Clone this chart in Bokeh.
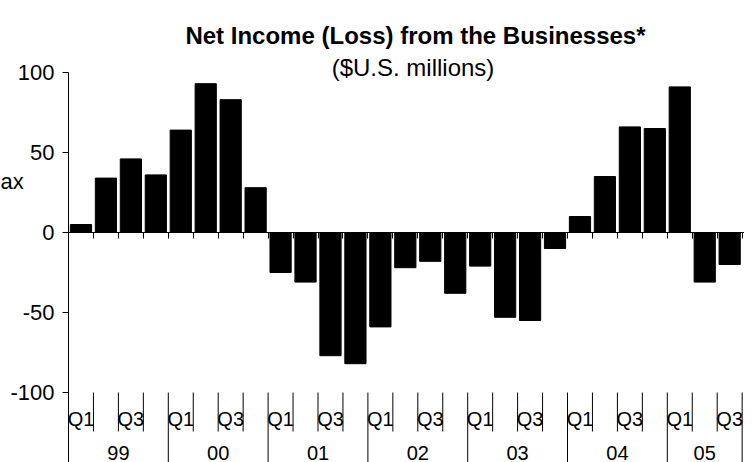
from bokeh.plotting import figure
from bokeh.models import Range1d, FixedTicker, Label
from bokeh.core.properties import value
from bokeh.embed import file_html
from bokeh.resources import INLINE

# ---- data ----
years = ["99", "00", "01", "02", "03", "04", "05"]
period_year = ["99"] * 4 + ["00"] * 4 + ["01"] * 4 + ["02"] * 4 + ["03"] * 4 + ["04"] * 4 + ["05"] * 3
period_quarter = ["Q1", "Q2", "Q3", "Q4"] * 6 + ["Q1", "Q2", "Q3"]
net_income = [5, 34, 46, 36,
              64, 93, 83, 28,
              -25, -31, -77, -82,
              -59, -22, -18, -38,
              -21, -53, -55, -10,
              10, 35, 66, 65,
              91, -31, -20]
shown_quarters = ["Q1", "Q3"]
y_ticks = [-100, -50, 0, 50, 100]
y_tick_labels = ["-100", "-50", "0", "50", "100"]
title_text = "Net Income (Loss) from the Businesses*"
subtitle_text = "($U.S. millions)"
side_text = "ax"

FONT = "Liberation Sans"
n = len(net_income)
xs = list(range(n))

W, H = 744, 462
LEFT_PX, SLOT_PX = 68, 24.95         # pixel position of first category edge, pixels per category
TOP_PX, PX_PER_UNIT = 72, 1.6        # pixel position of value 100, pixels per unit
y_max = max(y_ticks)
x0 = -0.5 - LEFT_PX / SLOT_PX
x1 = x0 + W / SLOT_PX
ytop = y_max + TOP_PX / PX_PER_UNIT
ybot = ytop - H / PX_PER_UNIT


def dx(px):
    return x0 + px / SLOT_PX


def dy(py):
    return ytop - py / PX_PER_UNIT


p = figure(width=W, height=H, output_backend="svg", toolbar_location=None,
           title=None, x_range=Range1d(x0, x1), y_range=Range1d(ybot, ytop),
           min_border_left=0, min_border_right=0, min_border_top=0, min_border_bottom=0)
p.outline_line_color = None
p.xgrid.visible = False
p.ygrid.visible = False
p.background_fill_color = "white"
p.border_fill_color = "white"

# bars
p.vbar(x=xs, top=net_income, bottom=0, width=0.85, fill_color="black", line_color="black")

# y axis (fixed at the first category edge)
ya = p.yaxis[0]
ya.fixed_location = -0.5
ya.bounds = (ybot - 10, y_max)
ya.ticker = FixedTicker(ticks=y_ticks)
ya.major_label_overrides = {t: s for t, s in zip(y_ticks, y_tick_labels)}
ya.major_tick_out = 6
ya.major_tick_in = 0
ya.minor_tick_line_color = None
ya.axis_line_color = "black"
ya.major_tick_line_color = "black"
ya.major_label_text_font = FONT
ya.major_label_text_font_size = "22px"
ya.major_label_text_color = "black"
ya.major_label_standoff = 8

# category axis at zero
xa = p.xaxis[0]
xa.fixed_location = 0
xa.bounds = (-0.5, n + 0.5)
xa.ticker = FixedTicker(ticks=[i + 0.5 for i in range(n)])
xa.major_tick_out = 6
xa.major_tick_in = 0
xa.minor_tick_line_color = None
xa.major_label_text_font_size = "0px"
xa.major_label_text_color = None
xa.axis_line_color = "black"

# category separators below the value scale
q_x0, y_x0 = [], []
for i in range(1, n + 1):
    b = i - 0.5
    if i == n or period_year[i] != period_year[i - 1]:
        y_x0.append(b)
    else:
        q_x0.append(b)
y_min = min(y_ticks)
p.segment(x0=q_x0, x1=q_x0, y0=[y_min] * len(q_x0), y1=[dy(431)] * len(q_x0), line_color="black", line_width=1)
p.segment(x0=y_x0, x1=y_x0, y0=[y_min] * len(y_x0), y1=[ybot - 10] * len(y_x0), line_color="black", line_width=1)

# quarter labels
qx = [x for x, q in zip(xs, period_quarter) if q in shown_quarters]
qt = [q for q in period_quarter if q in shown_quarters]
p.text(x=qx, y=[dy(418)] * len(qx), text=qt, text_align="center", text_baseline="middle",
       text_font=value(FONT), text_font_size="20px", text_color="black")

# year labels
yx = []
for yr in years:
    idx = [i for i, v in enumerate(period_year) if v == yr]
    yx.append(sum(idx) / len(idx))
p.text(x=yx, y=[dy(452)] * len(yx), text=years, text_align="center", text_baseline="middle",
       text_font=value(FONT), text_font_size="20px", text_color="black")

# titles
p.add_layout(Label(x=dx(415), y=dy(35), text=title_text, text_align="center", text_baseline="alphabetic",
                   text_font=FONT, text_font_size="24px", text_font_style="bold", text_color="black"))
p.add_layout(Label(x=dx(412.5), y=dy(66.7), text=subtitle_text, text_align="center", text_baseline="alphabetic",
                   text_font=FONT, text_font_size="24px", text_color="black"))
p.add_layout(Label(x=dx(0), y=dy(181), text=side_text, text_align="left", text_baseline="middle",
                   text_font=FONT, text_font_size="22px", text_color="black"))

open("out.html", "w").write(file_html(p, INLINE))
